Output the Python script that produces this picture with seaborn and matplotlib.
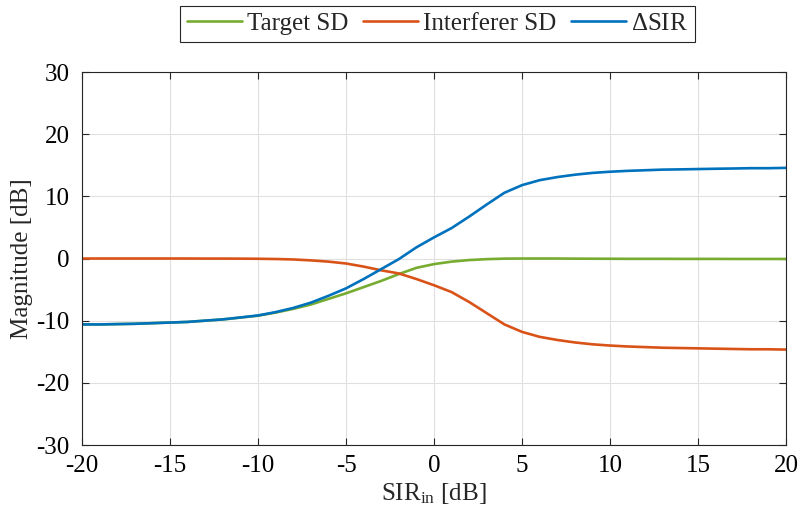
import numpy as np
import pandas as pd
import matplotlib
matplotlib.use('Agg')
import matplotlib.pyplot as plt
import seaborn as sns

# --- data ---
sir_in = list(range(-20, 21))

target_sd = [-10.6, -10.6, -10.55, -10.5, -10.4, -10.3, -10.2, -10.0, -9.8, -9.5,
             -9.2, -8.7, -8.1, -7.4, -6.5, -5.6, -4.6, -3.6, -2.5, -1.5,
             -0.9, -0.5, -0.25, -0.1, -0.02, 0.0, 0.0, 0.0, -0.02, -0.03,
             -0.04, -0.05, -0.05, -0.05, -0.06, -0.06, -0.06, -0.07, -0.07, -0.07, -0.07]

interferer_sd = [0.0, 0.0, 0.0, 0.0, 0.0, 0.0, 0.0, -0.01, -0.01, -0.02,
                 -0.04, -0.08, -0.15, -0.3, -0.5, -0.8, -1.3, -1.9, -2.4, -3.3,
                 -4.3, -5.4, -7.0, -8.8, -10.6, -11.8, -12.6, -13.1, -13.5, -13.8,
                 -14.0, -14.15, -14.25, -14.35, -14.4, -14.45, -14.5, -14.55, -14.6, -14.6, -14.65]

delta_sir = [-10.6, -10.6, -10.55, -10.5, -10.4, -10.3, -10.2, -9.99, -9.79, -9.48,
             -9.16, -8.62, -7.95, -7.1, -6.0, -4.8, -3.3, -1.7, -0.1, 1.8,
             3.4, 4.9, 6.75, 8.7, 10.58, 11.8, 12.6, 13.1, 13.48, 13.77,
             13.96, 14.1, 14.2, 14.3, 14.34, 14.39, 14.44, 14.48, 14.53, 14.53, 14.58]

series_names = ['Target SD', 'Interferer SD', '$\\Delta$SIR']
series_colors = ['#77AC30', '#D95319', '#0072BD']

x_ticks = [-20, -15, -10, -5, 0, 5, 10, 15, 20]
y_ticks = [-30, -20, -10, 0, 10, 20, 30]

df = pd.DataFrame({
    'SIR': sir_in * 3,
    'Magnitude': target_sd + interferer_sd + delta_sir,
    'Series': [series_names[0]] * len(sir_in) + [series_names[1]] * len(sir_in)
              + [series_names[2]] * len(sir_in),
})

sns.set_theme(style='ticks')
plt.rcParams['font.family'] = ['Liberation Serif', 'DejaVu Serif']
plt.rcParams['mathtext.fontset'] = 'custom'
plt.rcParams['mathtext.rm'] = 'Liberation Serif'
plt.rcParams['mathtext.it'] = 'Liberation Serif:italic'
plt.rcParams['axes.unicode_minus'] = False

fig = plt.figure(figsize=(8.01, 5.2), dpi=100)
ax = fig.add_axes([0.1024, 0.1442, 0.8789, 0.7173])

sns.lineplot(data=df, x='SIR', y='Magnitude', hue='Series', palette=series_colors,
             hue_order=series_names, linewidth=1.9, ax=ax, legend=True)

ax.set_xlim(-20, 20)
ax.set_ylim(-30, 30)
ax.set_xticks(x_ticks)
ax.set_yticks(y_ticks)
ax.tick_params(direction='in', length=5, width=0.8, labelsize=18, colors='#262626',
               top=True, right=True, labelcolor='black')
ax.tick_params(axis='y', pad=9)
ax.tick_params(axis='x', pad=7)
ax.grid(True, color='#e0e0e0', linewidth=0.8)
ax.set_axisbelow(True)
for s in ax.spines.values():
    s.set_color('#262626')
    s.set_linewidth(0.8)

ax.set_xlabel('SIR$_{\\mathrm{in}}$ [dB]', fontsize=18, labelpad=3)
ax.set_ylabel('Magnitude [dB]', fontsize=18, labelpad=2)

handles, labels = ax.get_legend_handles_labels()
ax.legend(handles, labels, loc='lower center', bbox_to_anchor=(0.505, 1.08), ncol=3,
          fontsize=18, frameon=True, fancybox=False, edgecolor='#262626', framealpha=1,
          handlelength=2.2, handletextpad=0.2, columnspacing=0.6, borderpad=0.28,
          borderaxespad=0.0)
ax.get_legend().get_frame().set_linewidth(0.8)

fig.savefig('out.png', dpi=100)
